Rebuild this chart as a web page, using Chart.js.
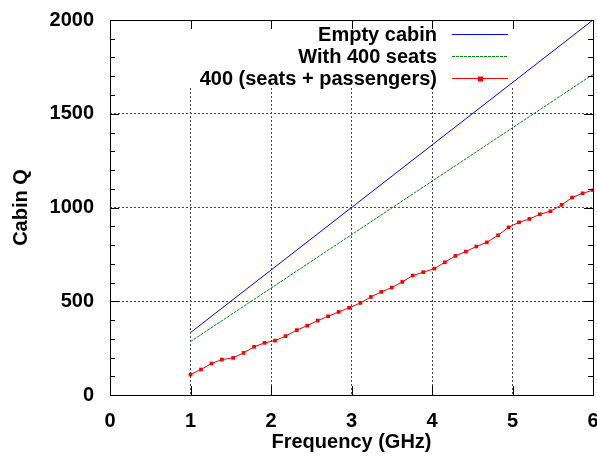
<!DOCTYPE html>
<html>
<head>
<meta charset="utf-8">
<script src="https://cdn.jsdelivr.net/npm/chart.js@4.4.1/dist/chart.umd.min.js"></script>
<style>
  html, body { margin: 0; padding: 0; background: #fff; }
  #wrap { width: 597px; height: 462px; }
</style>
</head>
<body>
<div id="wrap"><canvas id="cabinChart"></canvas></div>
<script>
// --- Data ---
const lineFreqs = [1, 6]
const emptyCabin = [333, 2000]
const with400Seats = [285, 1710]

const measuredFreqs = [
  1.00, 1.13, 1.26, 1.39, 1.53, 1.66, 1.79, 1.92, 2.05, 2.18,
  2.32, 2.45, 2.58, 2.71, 2.84, 2.97, 3.11, 3.24, 3.37, 3.50,
  3.63, 3.76, 3.89, 4.03, 4.16, 4.29, 4.42, 4.55, 4.68, 4.82,
  4.95, 5.08, 5.21, 5.34, 5.47, 5.61, 5.74, 5.87, 6.00,
]
const seatsPassengers = [
  109, 136, 168, 189, 198, 225, 257, 278, 290, 314,
  346, 370, 397, 420, 443, 465, 491, 523, 550, 573,
  603, 637, 655, 674, 708, 742, 765, 792, 814, 852,
  894, 921, 939, 964, 980, 1014, 1053, 1076, 1092,
]

const xTicks = [0, 1, 2, 3, 4, 5, 6]
const yTicks = [0, 500, 1000, 1500, 2000]

const seriesNames = ['Empty cabin', 'With 400 seats', '400 (seats + passengers)']

const FONT = 'Liberation Sans, Arial, sans-serif'

function pairs(xs, ys) {
  return xs.map((x, i) => ({ x: x, y: ys[i] }))
}

// --- Legend inside the plot, over a white box (hides the grid) ---
const keyBox = {
  id: 'keyBox',
  beforeDatasetsDraw(chart) {
    const ctx = chart.ctx
    ctx.save()
    ctx.fillStyle = '#fff'
    ctx.fillRect(183, 21, 332, 67)
    ctx.restore()
  },
  afterDatasetsDraw(chart) {
    const ctx = chart.ctx
    const ds = chart.data.datasets
    ctx.save()
    ctx.font = 'bold 20px ' + FONT
    ctx.textAlign = 'right'
    ctx.textBaseline = 'middle'
    const rows = [34, 56, 78]
    rows.forEach((y, i) => {
      ctx.fillStyle = '#000'
      ctx.fillText(seriesNames[i], 437, y + 1)
      ctx.strokeStyle = ds[i].borderColor
      ctx.lineWidth = 1
      ctx.setLineDash(ds[i].borderDash || [])
      ctx.beginPath()
      ctx.moveTo(452, y + 0.5)
      ctx.lineTo(508, y + 0.5)
      ctx.stroke()
      ctx.setLineDash([])
      if (i === 2) {
        ctx.fillStyle = ds[i].borderColor
        ctx.fillRect(478, y - 1.5, 5, 5)
      }
    })
    ctx.restore()
  },
}

// --- Frame and inward tick marks, gnuplot style ---
const frame = {
  id: 'frame',
  afterDraw(chart) {
    const ctx = chart.ctx
    const a = chart.chartArea
    const xs = chart.scales.x
    const ys = chart.scales.y
    ctx.save()
    ctx.strokeStyle = '#000'
    ctx.lineWidth = 1
    ctx.strokeRect(Math.round(a.left) + 0.5, Math.round(a.top) + 0.5,
      Math.round(a.right - a.left), Math.round(a.bottom - a.top))
    ctx.beginPath()
    for (let v = 0; v <= 2000; v += 100) {
      const py = Math.round(ys.getPixelForValue(v)) + 0.5
      const len = v % 500 === 0 ? 9 : 5
      ctx.moveTo(a.left, py); ctx.lineTo(a.left + len, py)
      ctx.moveTo(a.right, py); ctx.lineTo(a.right - len, py)
    }
    xTicks.forEach((v) => {
      const px = Math.round(xs.getPixelForValue(v)) + 0.5
      ctx.moveTo(px, a.bottom); ctx.lineTo(px, a.bottom - 9)
      ctx.moveTo(px, a.top); ctx.lineTo(px, a.top + 9)
    })
    ctx.stroke()
    ctx.restore()
  },
}

new Chart(document.getElementById('cabinChart'), {
  type: 'line',
  data: {
    datasets: [
      {
        label: seriesNames[0],
        data: pairs(lineFreqs, emptyCabin),
        borderColor: '#0000ff',
        borderWidth: 1,
        pointRadius: 0,
      },
      {
        label: seriesNames[1],
        data: pairs(lineFreqs, with400Seats),
        borderColor: '#008a00',
        borderWidth: 1,
        borderDash: [3, 1],
        pointRadius: 0,
      },
      {
        label: seriesNames[2],
        data: pairs(measuredFreqs, seatsPassengers),
        borderColor: '#ff0000',
        backgroundColor: '#ff0000',
        borderWidth: 1,
        pointStyle: 'rect',
        pointRadius: 2.6,
        pointBorderWidth: 0,
      },
    ],
  },
  options: {
    responsive: true,
    maintainAspectRatio: false,
    animation: false,
    layout: { padding: { left: 0, top: 20, right: 3, bottom: 0 } },
    scales: {
      x: {
        type: 'linear',
        min: 0,
        max: 6,
        afterBuildTicks: (s) => { s.ticks = xTicks.map((v) => ({ value: v })) },
        afterFit: (s) => { s.height = 67; s.paddingLeft = 0; s.paddingRight = 0 },
        grid: { color: '#444', drawTicks: false, tickLength: 0 },
        border: { display: false, dash: [2, 2] },
        ticks: { color: '#000', font: { family: FONT, size: 20, weight: 'bold' }, padding: 14, maxRotation: 0,
          callback: (v) => String(v) },
        title: { display: true, text: 'Frequency (GHz)', color: '#000', font: { family: FONT, size: 20, weight: 'bold' }, padding: { top: 0, bottom: 8 } },
      },
      y: {
        min: 0,
        max: 2000,
        afterBuildTicks: (s) => { s.ticks = yTicks.map((v) => ({ value: v })) },
        afterFit: (s) => { s.width = 110; s.paddingTop = 0; s.paddingBottom = 0 },
        grid: { color: '#444', drawTicks: false, tickLength: 0 },
        border: { display: false, dash: [2, 2] },
        ticks: { color: '#000', font: { family: FONT, size: 20, weight: 'bold' }, padding: 16,
          callback: (v) => String(v) },
        title: { display: true, text: 'Cabin Q', color: '#000', font: { family: FONT, size: 20, weight: 'bold' }, padding: { top: 9, bottom: 0 } },
      },
    },
    plugins: {
      legend: { display: false },
      tooltip: { enabled: false },
    },
  },
  plugins: [keyBox, frame],
})
</script>
</body>
</html>
